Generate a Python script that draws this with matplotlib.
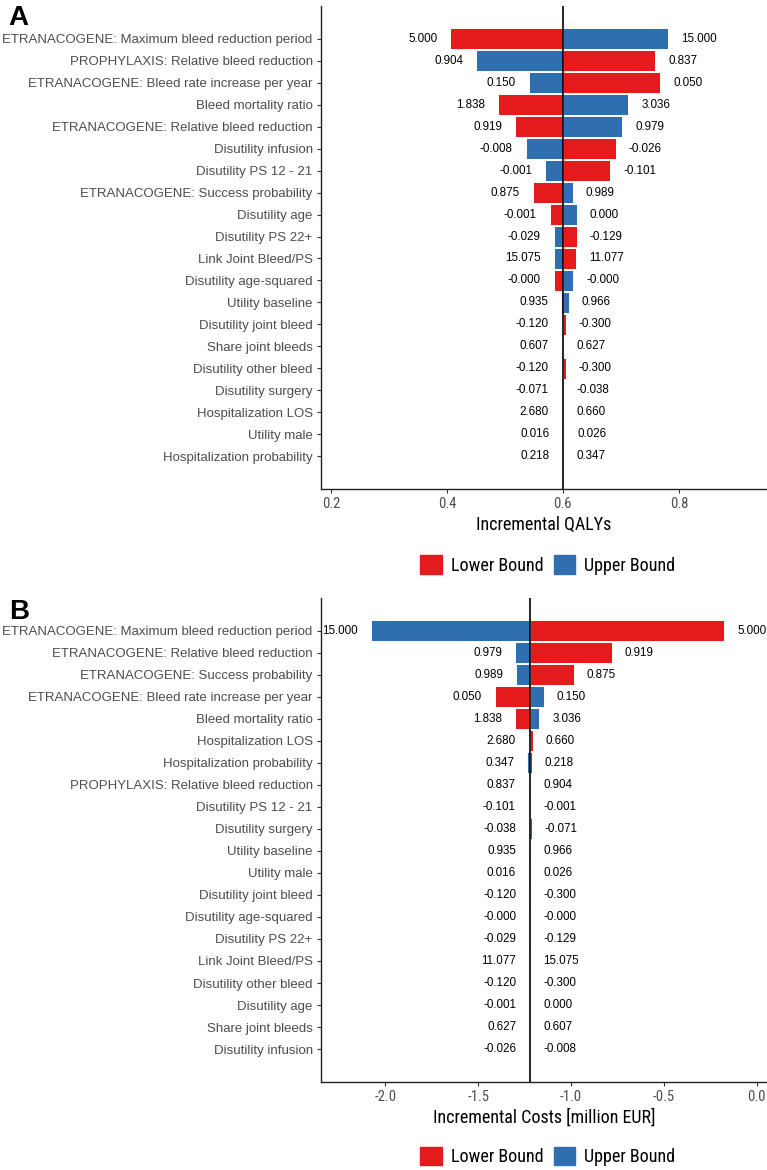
import matplotlib
matplotlib.use("Agg")
import matplotlib.pyplot as plt
from matplotlib.patches import Patch

# Panel A: incremental QALYs
params_a = ["ETRANACOGENE: Maximum bleed reduction period",
            "PROPHYLAXIS: Relative bleed reduction",
            "ETRANACOGENE: Bleed rate increase per year",
            "Bleed mortality ratio",
            "ETRANACOGENE: Relative bleed reduction",
            "Disutility infusion",
            "Disutility PS 12 - 21",
            "ETRANACOGENE: Success probability",
            "Disutility age",
            "Disutility PS 22+",
            "Link Joint Bleed/PS",
            "Disutility age-squared",
            "Utility baseline",
            "Disutility joint bleed",
            "Share joint bleeds",
            "Disutility other bleed",
            "Disutility surgery",
            "Hospitalization LOS",
            "Utility male",
            "Hospitalization probability"]
lower_val_a = ["5.000", "0.837", "0.050", "1.838", "0.919", "-0.026", "-0.101", "0.875", "-0.001", "-0.129",
               "11.077", "-0.000", "0.935", "-0.300", "0.607", "-0.300", "-0.071", "0.660", "0.016", "0.218"]
upper_val_a = ["15.000", "0.904", "0.150", "3.036", "0.979", "-0.008", "-0.001", "0.989", "0.000", "-0.029",
               "15.075", "-0.000", "0.966", "-0.120", "0.627", "-0.120", "-0.038", "2.680", "0.026", "0.347"]
res_low_a = [0.406, 0.759, 0.768, 0.488, 0.518, 0.691, 0.681, 0.548, 0.578, 0.624,
             0.622, 0.584, 0.597, 0.605, 0.598, 0.605, 0.598, 0.6003, 0.5998, 0.5997]
res_up_a = [0.782, 0.451, 0.541, 0.713, 0.702, 0.536, 0.570, 0.617, 0.624, 0.584,
            0.584, 0.618, 0.610, 0.598, 0.6005, 0.598, 0.6005, 0.5985, 0.6024, 0.6004]
base_a = 0.600

# Panel B: incremental costs
params_b = ["ETRANACOGENE: Maximum bleed reduction period",
            "ETRANACOGENE: Relative bleed reduction",
            "ETRANACOGENE: Success probability",
            "ETRANACOGENE: Bleed rate increase per year",
            "Bleed mortality ratio",
            "Hospitalization LOS",
            "Hospitalization probability",
            "PROPHYLAXIS: Relative bleed reduction",
            "Disutility PS 12 - 21",
            "Disutility surgery",
            "Utility baseline",
            "Utility male",
            "Disutility joint bleed",
            "Disutility age-squared",
            "Disutility PS 22+",
            "Link Joint Bleed/PS",
            "Disutility other bleed",
            "Disutility age",
            "Share joint bleeds",
            "Disutility infusion"]
lower_val_b = ["5.000", "0.919", "0.875", "0.050", "1.838", "0.660", "0.218", "0.837", "-0.101", "-0.071",
               "0.935", "0.016", "-0.300", "-0.000", "-0.129", "11.077", "-0.300", "-0.001", "0.607", "-0.026"]
upper_val_b = ["15.000", "0.979", "0.989", "0.150", "3.036", "2.680", "0.347", "0.904", "-0.001", "-0.038",
               "0.966", "0.026", "-0.120", "-0.000", "-0.029", "15.075", "-0.120", "0.000", "0.627", "-0.008"]
res_low_b = [-0.177, -0.781, -0.986, -1.412, -1.300, -1.207, -1.212, -1.229, -1.229, -1.212,
             -1.226, -1.226, -1.2205, -1.2205, -1.2205, -1.226, -1.2205, -1.2225, -1.2205, -1.2225]
res_up_b = [-2.078, -1.300, -1.295, -1.148, -1.171, -1.229, -1.236, -1.2205, -1.2205, -1.2225,
            -1.2205, -1.2205, -1.225, -1.225, -1.225, -1.2205, -1.2225, -1.2205, -1.2225, -1.2205]
base_b = -1.221

RED = "#E41A1C"
BLUE = "#2F6FB0"
NARROW = ["Liberation Sans Narrow", "Roboto Condensed", "DejaVu Sans Condensed", "Liberation Sans"]
plt.rcParams['font.family'] = ["Liberation Sans", "DejaVu Sans"]

W, H = 767, 1170
fig = plt.figure(figsize=(W / 100, H / 100), dpi=100)


def tornado(ax, params, lo_txt, up_txt, res_lo, res_up, base, xlim, xticks, xticklabels, xlabel):
    n = len(params)
    y = list(range(n))
    ax.barh(y, [r - base for r in res_lo], left=base, height=0.95, color=RED,
            edgecolor="white", linewidth=0.7, zorder=2)
    ax.barh(y, [r - base for r in res_up], left=base, height=0.95, color=BLUE,
            edgecolor="white", linewidth=0.7, zorder=2)
    ax.axvline(base, color="black", lw=1.2, zorder=3)
    for i in range(n):
        if res_lo[i] <= res_up[i]:
            left_x, left_t, right_x, right_t = res_lo[i], lo_txt[i], res_up[i], up_txt[i]
        else:
            left_x, left_t, right_x, right_t = res_up[i], up_txt[i], res_lo[i], lo_txt[i]
        ax.annotate(left_t, (left_x, i), xytext=(-9.5, 0), textcoords="offset points",
                    ha="right", va="center", fontsize=8.4, color="black")
        ax.annotate(right_t, (right_x, i), xytext=(9.5, 0), textcoords="offset points",
                    ha="left", va="center", fontsize=8.4, color="black")
    ax.set_yticks(y)
    ax.set_yticklabels(params, fontsize=9.55, color="#4D4D4D")
    ax.set_ylim(n - 1 + 1.48, -1.48)
    ax.set_xlim(*xlim)
    ax.set_xticks(xticks)
    ax.set_xticklabels(xticklabels, fontsize=10.5, color="#4D4D4D", family=NARROW,
                       fontstretch="condensed")
    ax.set_xlabel(xlabel, fontsize=13, family=NARROW, fontstretch="condensed", labelpad=3)
    for s in ["top", "right"]:
        ax.spines[s].set_visible(False)
    for s in ["left", "bottom"]:
        ax.spines[s].set_linewidth(1.0)
        ax.spines[s].set_color("#222222")
    ax.tick_params(axis="both", length=3, width=0.8, color="#333333", pad=3)


ax_a = fig.add_axes([321 / W, 1 - 489 / H, (W - 321) / W, 483 / H])
tornado(ax_a, params_a, lower_val_a, upper_val_a, res_low_a, res_up_a, base_a,
        (0.183, 0.952), [0.2, 0.4, 0.6, 0.8], ["0.2", "0.4", "0.6", "0.8"], "Incremental QALYs")

ax_b = fig.add_axes([321 / W, 1 - 1081.7 / H, (W - 321) / W, 483.7 / H])
tornado(ax_b, params_b, lower_val_b, upper_val_b, res_low_b, res_up_b, base_b,
        (-2.347, 0.055), [-2.0, -1.5, -1.0, -0.5, 0.0], ["-2.0", "-1.5", "-1.0", "-0.5", "0.0"],
        "Incremental Costs [million EUR]")

handles = [Patch(facecolor=RED, edgecolor=RED), Patch(facecolor=BLUE, edgecolor=BLUE)]
for yc in (565, 1156.5):
    fig.legend(handles, ["Lower Bound", "Upper Bound"], loc="center",
               bbox_to_anchor=(548 / W, 1 - yc / H), ncol=2, frameon=False,
               prop={"family": NARROW, "size": 13, "stretch": "condensed"},
               handlelength=1.2, handleheight=1.2,
               handletextpad=0.5, columnspacing=0.55, borderpad=0, borderaxespad=0)

fig.text(8 / W, 1 - 25 / H, "A", fontsize=20, fontweight="bold", va="baseline", family="Liberation Sans")
fig.text(9 / W, 1 - 619 / H, "B", fontsize=20, fontweight="bold", va="baseline", family="Liberation Sans")

fig.savefig("out.png", dpi=100)
